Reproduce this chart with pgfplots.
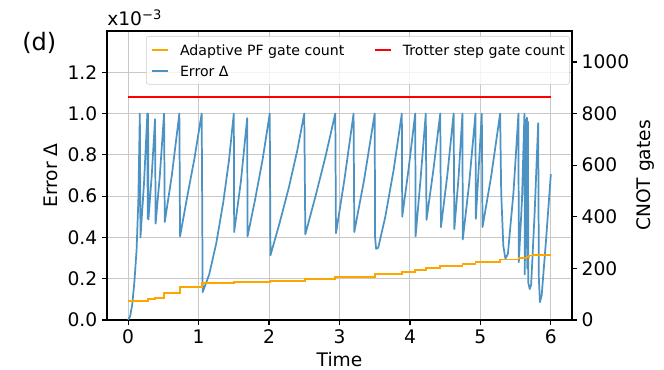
\documentclass[border=0pt]{standalone}
\usepackage{fontspec}
\setmainfont{DejaVu Sans}
\setsansfont{DejaVu Sans}
\usepackage{pgfplots}
\pgfplotsset{compat=1.18}
\definecolor{mblue}{RGB}{76,146,195}
\definecolor{morange}{RGB}{255,165,0}
\definecolor{gridc}{RGB}{200,200,200}
\definecolor{legedge}{RGB}{204,204,204}
\begin{document}
\begin{tikzpicture}
\useasboundingbox (-80.25pt,-37.5pt) rectangle (417.75pt,240pt);
\pgfplotsset{
  common/.style={
    at={(0pt,0pt)}, anchor=south west, scale only axis,
    width=348.75pt, height=216.75pt,
    xmin=-0.3, xmax=6.3,
    tick align=outside, major tick length=3.75pt,
    every tick/.style={black, line width=0.9pt},
    axis line style={line width=1pt},
    /pgf/number format/assume math mode=true,
    tick label style={font=\fontsize{14}{16}\selectfont},
    label style={font=\fontsize{14}{16}\selectfont},
    scaled y ticks=false,
  }
}
\begin{axis}[common,
  ymin=0, ymax=1.4,
  xtick={0,1,2,3,4,5,6}, ytick={0,0.2,0.4,0.6,0.8,1.0,1.2},
  xtick pos=bottom, ytick pos=left,
  grid=major, major grid style={gridc, line width=0.8pt},
  y tick label style={/pgf/number format/.cd, fixed, fixed zerofill, precision=1, /tikz/.cd},
  xlabel={Time}, ylabel={Error Δ},
  xlabel style={at={(axis description cs:0.5,0)}, anchor=base, yshift=-35pt},
  ylabel style={at={(axis description cs:-0.1204,0.5)}, anchor=center},
]
\addplot[mblue, line width=1.3pt, line join=round, mark=none] coordinates {
(0,0) (0.03,0.02) (0.06,0.08) (0.09,0.19) (0.12,0.34) (0.145,0.58) (0.166,1.0)
(0.175,0.40) (0.225,0.66) (0.273,1.0) (0.278,0.49) (0.283,1.0) (0.288,0.487)
(0.335,0.70) (0.382,0.973) (0.39,0.467) (0.45,0.70) (0.51,1.0) (0.52,0.475)
(0.62,0.70) (0.727,1.0) (0.737,0.405) (0.84,0.60) (0.94,0.78) (1.044,1.0)
(1.058,0.135) (1.15,0.22) (1.25,0.37) (1.35,0.57) (1.43,0.77) (1.50,1.0)
(1.505,0.426) (1.60,0.67) (1.69,0.978) (1.695,0.405) (1.80,0.58) (1.91,0.78)
(2.01,1.0) (2.02,0.313) (2.15,0.47) (2.28,0.64) (2.40,0.82) (2.50,1.0)
(2.515,0.415) (2.66,0.60) (2.80,0.79) (2.94,1.0) (2.95,0.42) (3.07,0.68)
(3.20,1.0) (3.21,0.426) (3.35,0.68) (3.50,1.0) (3.505,0.40) (3.52,0.345)
(3.55,0.35) (3.65,0.50) (3.77,0.73) (3.885,1.0) (3.89,0.50) (3.98,0.73)
(4.075,1.0) (4.08,0.405) (4.15,0.68) (4.225,1.0) (4.235,0.485) (4.33,0.72)
(4.43,1.0) (4.44,0.45) (4.53,0.70) (4.62,1.0) (4.63,0.44) (4.69,0.69)
(4.745,1.0) (4.75,0.39) (4.84,0.66) (4.93,1.0) (4.935,0.49) (5.02,1.0)
(5.03,0.45) (5.15,0.69) (5.28,1.0) (5.295,0.62) (5.325,0.36) (5.355,0.297)
(5.39,0.32) (5.47,0.62) (5.54,1.0) (5.545,0.28) (5.59,0.58) (5.625,1.0)
(5.63,0.22) (5.645,0.97) (5.65,0.35) (5.66,0.98) (5.665,0.25) (5.675,0.96)
(5.68,0.18) (5.70,0.15) (5.72,0.17) (5.77,0.52) (5.82,0.954) (5.83,0.2)
(5.845,0.086) (5.87,0.12) (5.93,0.38) (6.0,0.707)
};
\end{axis}
\begin{axis}[common,
  ymin=0, ymax=1120,
  axis x line=none, axis y line*=right,
  ytick={0,200,400,600,800,1000},
  y tick label style={/pgf/number format/.cd, set thousands separator={}, /tikz/.cd},
  ylabel={CNOT gates},
  ylabel style={at={(axis description cs:1.1591,0.5)}, anchor=center},
  legend columns=2,
  legend cell align=left,
  legend image code/.code={\draw[#1] (0pt,0pt) -- (12pt,0pt); \path (20.5pt,0pt);},
  legend style={at={(axis description cs:0.08387,0.9827)}, anchor=north west,
    draw=legedge, fill=white, fill opacity=0.8, text opacity=1,
    rounded corners=2pt, inner xsep=3.5pt, inner ysep=3pt,
    font=\fontsize{10.6}{12}\selectfont,
    nodes={inner sep=0pt, text height=11.8pt, text depth=2.5pt},
    row sep=1.45pt,
    /tikz/every odd column/.append style={column sep=0pt},
    /tikz/every even column/.append style={column sep=0pt}},
]
\addplot[morange, line width=1.3pt, const plot, mark=none] coordinates {
(0,75) (0.28,80) (0.385,86) (0.51,105) (0.735,127) (1.05,142) (1.50,146)
(2.01,152) (2.515,160) (2.94,167) (3.50,178) (3.885,185) (4.075,194)
(4.225,202) (4.43,210) (4.745,218) (4.93,224) (5.28,234) (5.54,240)
(5.655,245) (5.69,250) (5.75,252) (6.0,252)
};
\addlegendentry{\makebox[145.3pt][l]{Adaptive PF gate count}}
\addplot[red, line width=1.3pt, mark=none] coordinates {(0,864) (6,864)};
\addlegendentry{Trotter step gate count}
\addlegendimage{legend image code/.code={\draw[mblue, line width=1.3pt] (0pt,0pt) -- (12pt,0pt); \path (20.5pt,0pt);}}
\addlegendentry{Error Δ}
\end{axis}
\node[anchor=base west, inner sep=0pt, font=\fontsize{14}{16}\selectfont] at (0pt,220.5pt) {x10\textsuperscript{−3}};
\node[anchor=west, inner sep=0pt, font=\fontsize{18}{20}\selectfont] at (-63.75pt,207.75pt) {(d)};
\end{tikzpicture}
\end{document}
